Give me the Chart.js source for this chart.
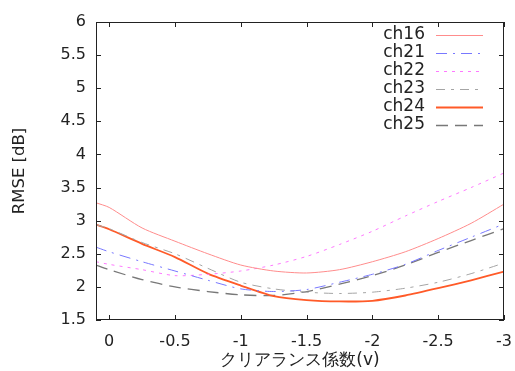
<!DOCTYPE html>
<html><head><meta charset="utf-8">
<script src="https://cdn.jsdelivr.net/npm/chart.js@4"></script>
<style>html,body{margin:0;padding:0;background:#fff}#w{width:515px;height:371px}</style>
</head><body><div id="w"><canvas id="c" width="515" height="371"></canvas></div>
<script>
const vValues = [0.1, 0, -0.25, -0.5, -0.75, -1, -1.25, -1.5, -1.75, -2, -2.25, -2.5, -2.75, -3];
const seriesNames = ['ch16','ch21','ch22','ch23','ch24','ch25'];
const ch16 = [3.27, 3.2, 2.89, 2.69, 2.5, 2.33, 2.24, 2.21, 2.26, 2.38, 2.53, 2.73, 2.96, 3.25];
const ch21 = [2.6, 2.53, 2.38, 2.24, 2.1, 1.97, 1.93, 1.96, 2.07, 2.19, 2.34, 2.55, 2.75, 2.95];
const ch22 = [2.38, 2.34, 2.26, 2.17, 2.19, 2.24, 2.33, 2.46, 2.64, 2.84, 3.07, 3.29, 3.5, 3.72];
const ch23 = [2.94, 2.88, 2.67, 2.5, 2.28, 2.07, 1.97, 1.92, 1.9, 1.92, 1.98, 2.07, 2.2, 2.36];
const ch24 = [2.94, 2.87, 2.65, 2.45, 2.2, 2.02, 1.86, 1.8, 1.78, 1.79, 1.87, 1.98, 2.1, 2.23];
const ch25 = [2.33, 2.26, 2.11, 2.0, 1.93, 1.88, 1.87, 1.93, 2.04, 2.17, 2.33, 2.52, 2.7, 2.88];
const xTicks = [0, -0.5, -1, -1.5, -2, -2.5, -3];
const yTicks = [1.5, 2, 2.5, 3, 3.5, 4, 4.5, 5, 5.5, 6];
const xTitle = 'クリアランス係数(v)';
const yTitle = 'RMSE [dB]';

const styles = [
  {c:'rgb(255,140,140)', w:1, d:[]},
  {c:'rgb(120,120,255)', w:1, d:[11,6,2,6]},
  {c:'rgb(255,120,255)', w:1, d:[3,5]},
  {c:'rgb(165,165,165)', w:1, d:[9,6,3,6]},
  {c:'rgb(255,90,40)', w:1.8, d:[]},
  {c:'rgb(120,120,120)', w:1.3, d:[12,7]}
];
const allSeries = [ch16, ch21, ch22, ch23, ch24, ch25];
const datasets = allSeries.map((s,i)=>({
  label: seriesNames[i],
  data: s.map((y,j)=>({x:vValues[j], y:y})),
  borderColor: styles[i].c, borderWidth: styles[i].w, borderDash: styles[i].d,
  pointRadius: 0, tension: 0.25, fill:false
}));
const FONT = 'DejaVu Sans';

const decor = {
  id:'decor',
  afterDraw(chart){
    const ctx = chart.ctx, a = chart.chartArea;
    const xs = chart.scales.x, ys = chart.scales.y;
    ctx.save();
    ctx.strokeStyle = '#222'; ctx.lineWidth = 1; ctx.setLineDash([]);
    ctx.strokeRect(a.left+0.5, a.top+0.5, a.right-a.left-1, a.bottom-a.top-1);
    ctx.beginPath();
    xTicks.forEach(v=>{ const p = Math.round(xs.getPixelForValue(v))+0.5;
      ctx.moveTo(p,a.bottom); ctx.lineTo(p,a.bottom-5);
      ctx.moveTo(p,a.top); ctx.lineTo(p,a.top+5); });
    yTicks.forEach(v=>{ const p = Math.round(ys.getPixelForValue(v))+0.5;
      ctx.moveTo(a.left,p); ctx.lineTo(a.left+5,p);
      ctx.moveTo(a.right,p); ctx.lineTo(a.right-5,p); });
    ctx.stroke();
    // legend
    ctx.font = '17px "'+FONT+'"'; ctx.fillStyle = '#222';
    ctx.textAlign = 'right'; ctx.textBaseline = 'middle';
    seriesNames.forEach((n,i)=>{
      const y = 34.5 + i*18.1;
      ctx.fillText(n, 425, y);
      ctx.beginPath(); ctx.strokeStyle = styles[i].c; ctx.lineWidth = styles[i].w;
      ctx.setLineDash(styles[i].d);
      ctx.moveTo(436, Math.round(y)+0.5); ctx.lineTo(483, Math.round(y)+0.5); ctx.stroke();
    });
    ctx.setLineDash([]);
    // titles
    ctx.fillStyle = '#222'; ctx.font = '17px "'+FONT+'"';
    ctx.textAlign = 'center'; ctx.textBaseline = 'middle';
    ctx.fillText(xTitle, (a.left+a.right)/2, 361);
    ctx.font = '16.5px "'+FONT+'"';
    ctx.translate(20, (a.top+a.bottom)/2); ctx.rotate(-Math.PI/2);
    ctx.fillText(yTitle, 0, 0);
    ctx.restore();
  }
};

new Chart(document.getElementById('c'), {
  type:'line',
  data:{datasets},
  options:{
    responsive:false, animation:false, maintainAspectRatio:false,
    layout:{padding:{top:22,right:11,left:0,bottom:0}},
    plugins:{legend:{display:false}, tooltip:{enabled:false}},
    scales:{
      x:{type:'linear', reverse:true, min:-3, max:0.1,
        afterBuildTicks(s){ s.ticks = xTicks.map(v=>({value:v})); },
        afterFit(s){ s.height = 51; s.paddingLeft = 0; s.paddingRight = 0; },
        grid:{display:false, drawTicks:false}, border:{display:false},
        ticks:{padding:12, color:'#222', font:{family:FONT, size:16}, maxRotation:0, autoSkip:false,
          callback:(v)=>String(v)}},
      y:{type:'linear', min:1.5, max:6,
        afterBuildTicks(s){ s.ticks = yTicks.map(v=>({value:v})); },
        afterFit(s){ s.width = 96; s.paddingTop = 0; s.paddingBottom = 0; },
        grid:{display:false, drawTicks:false}, border:{display:false},
        ticks:{padding:10, color:'#222', font:{family:FONT, size:16}, autoSkip:false,
          callback:(v)=>String(v)}}
    }
  },
  plugins:[decor]
});
</script></body></html>
